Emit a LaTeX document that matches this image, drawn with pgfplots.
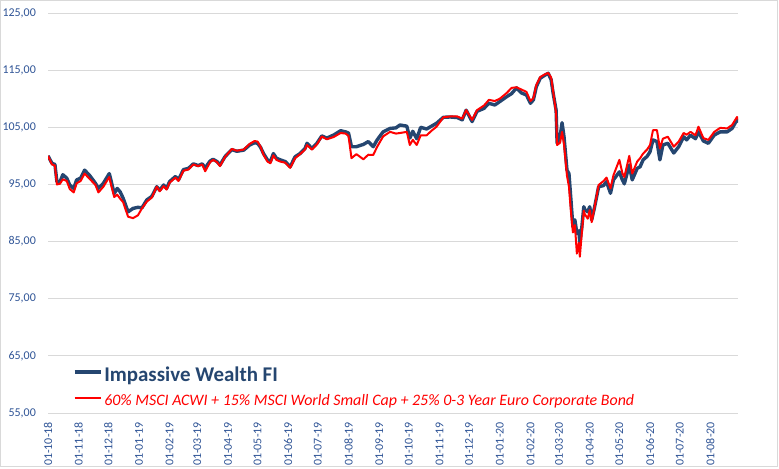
\documentclass[border=0pt]{standalone}
\usepackage{pgfplots}
\usepackage{pgfplotstable}
\pgfplotsset{compat=1.18}
\usepackage{fontspec}
\setmainfont{Carlito}
\definecolor{iwblue}{RGB}{37,70,112}
\definecolor{tickblue}{RGB}{47,84,150}
\definecolor{gridgray}{RGB}{217,217,217}
\definecolor{bordergray}{RGB}{217,217,217}

\pgfplotstableread{
day val
0 100.0
4 98.7
7 98.5
9 95.5
12 95.4
15 96.7
19 96.1
22 94.9
26 94.3
29 95.8
33 96.1
37 97.5
42 96.6
48 95.2
51 94.3
56 95.2
62 96.9
64 95.5
67 93.4
70 94.3
73 93.7
76 92.6
81 90.2
86 90.8
91 91.0
95 90.9
100 92.3
105 92.9
110 94.6
113 94.0
117 94.9
120 94.3
123 95.5
129 96.4
132 95.8
137 97.6
142 97.8
147 98.6
152 98.3
156 98.6
159 97.9
164 99.1
167 99.4
171 99.0
174 98.4
179 99.85
186 101.1
191 100.8
198 101.0
204 101.9
209 102.3
212 102.2
215 101.5
218 100.4
222 99.3
225 99.0
228 100.4
231 99.6
235 99.3
240 99.0
245 98.1
250 99.85
255 100.4
260 101.3
262 102.2
267 101.3
272 102.2
277 103.5
282 103.1
289 103.65
296 104.4
301 104.2
304 104.0
307 101.6
312 101.6
319 102.0
324 102.5
329 101.6
333 102.8
339 104.2
346 104.8
352 104.9
356 105.4
363 105.2
366 103.1
369 104.3
373 103.0
377 105.0
383 104.7
388 105.2
393 105.7
400 106.75
407 106.8
414 106.7
419 106.3
423 108.0
429 106.0
434 107.8
441 108.3
446 109.2
452 108.9
457 109.5
464 110.35
469 110.9
474 111.9
479 111.0
484 110.65
488 109.2
491 109.8
494 112.1
498 113.6
503 114.15
506 114.45
509 113.3
511 110.95
514 108.0
515 102.2
518 103.35
520 105.8
522 103.35
525 97.5
527 96.9
529 92.3
531 87.6
533 88.8
535 86.4
537 86.9
538 84.7
540 87.5
542 91.1
543 90.6
546 90.2
548 91.1
550 88.8
553 91.1
557 94.6
562 94.8
565 95.5
569 93.45
572 95.8
578 97.2
581 95.8
583 95.1
588 98.4
591 95.8
596 97.8
599 98.1
602 99.3
606 99.9
609 100.7
612 102.8
616 102.5
619 99.3
622 101.9
627 102.2
633 100.5
638 101.6
643 103.35
646 102.8
650 103.6
655 103.0
658 104.2
663 102.6
668 102.2
674 103.65
680 104.2
687 104.2
692 104.8
697 106.3
699 106.0
}\iwtable

\pgfplotstableread{
day val
0 100.0
4 98.5
7 98.3
9 95.0
12 95.1
15 95.9
19 95.6
22 94.2
26 93.6
29 95.2
33 95.6
37 96.9
42 96.0
48 94.9
51 93.6
56 94.6
62 96.3
64 94.8
67 92.8
70 93.2
73 92.5
76 91.9
81 89.35
86 89.1
91 89.6
95 90.8
100 92.0
105 92.7
110 94.6
113 93.8
117 94.7
120 94.1
123 95.3
129 96.2
132 95.6
137 97.4
142 97.6
147 98.5
152 98.2
156 98.5
159 97.3
164 98.9
167 99.3
171 98.9
174 98.2
179 99.8
186 101.2
191 100.9
198 101.1
204 102.1
209 102.6
212 102.5
215 101.6
218 100.2
222 99.0
225 98.7
228 100.1
231 99.3
235 99.0
240 98.8
245 97.9
250 99.6
255 100.3
260 101.1
262 101.9
267 101.1
272 102.0
277 103.4
282 102.9
289 103.3
296 104.0
301 103.9
304 103.5
307 99.6
312 100.3
319 99.4
324 100.2
329 100.15
333 101.6
339 103.4
346 104.2
352 103.9
356 104.0
363 104.2
366 101.9
369 102.8
373 101.9
377 103.6
383 103.6
388 104.4
393 105.1
400 106.75
407 106.9
414 106.9
419 106.5
423 108.0
429 106.3
434 108.0
441 108.8
446 109.8
452 109.6
457 110.0
464 111.0
469 111.9
474 112.0
479 111.6
484 111.2
488 109.6
491 110.1
494 112.4
498 113.8
503 114.3
506 114.5
509 113.7
511 111.3
514 107.4
515 101.9
518 102.3
520 104.2
522 102.0
525 96.5
527 94.6
529 90.2
531 86.6
533 87.9
535 82.9
537 84.8
538 82.35
540 86.5
542 90.4
543 89.8
546 89.0
548 90.5
550 88.4
553 91.1
557 94.9
562 95.6
565 96.2
569 94.3
572 96.6
578 99.3
581 97.0
583 96.3
588 100.0
591 96.9
596 99.0
599 99.6
602 100.4
606 101.1
609 101.9
612 104.5
616 104.5
619 101.3
622 103.0
627 103.35
633 101.6
638 102.5
643 104.0
646 103.7
650 104.2
655 103.6
658 105.1
663 103.1
668 102.8
674 104.2
680 104.9
687 104.8
692 105.4
697 106.8
699 106.3
}\bmtable

\begin{document}
\begin{tikzpicture}
\useasboundingbox (0,0) rectangle (779bp,469bp);
\draw[bordergray, line width=1bp] (0.5bp,2bp) rectangle (777bp,468.5bp);
\begin{axis}[
  at={(48bp,56bp)}, anchor=south west,
  scale only axis, width=690bp, height=400bp,
  xmin=0, xmax=698, ymin=55, ymax=125,
  axis line style={draw=none},
  major tick length=0pt,
  ymajorgrids, grid style={gridgray, line width=1bp},
  ytick={55,65,75,85,95,105,115,125},
  /pgf/number format/.cd, assume math mode=true, fixed, fixed zerofill, precision=2, use comma,
  /pgfplots/.cd,
  yticklabel style={font=\fontsize{12}{14}\selectfont, text=tickblue, inner sep=0pt, anchor=east, xshift=-12bp},
  xtick={0,31,61,92,123,151,182,212,243,273,304,335,365,396,426,457,488,517,548,578,609,639,670},
  xticklabels={01-10-18,01-11-18,01-12-18,01-01-19,01-02-19,01-03-19,01-04-19,01-05-19,01-06-19,01-07-19,01-08-19,01-09-19,01-10-19,01-11-19,01-12-19,01-01-20,01-02-20,01-03-20,01-04-20,01-05-20,01-06-20,01-07-20,01-08-20},
  xticklabel style={font=\fontsize{12}{14}\selectfont, text=tickblue, rotate=90, anchor=east, inner sep=0pt},
  xticklabel shift=9bp,
  legend style={at={(axis cs:22,63.85)}, anchor=north west, draw=none, fill=none, row sep=7.6bp, column sep=0bp},
  legend cell align=left,
  legend image code/.code={\draw[#1] (0bp,0.6ex) -- (26bp,0.6ex);},
]
\addplot[iwblue, line width=3.4bp, line join=round] table[x=day, y=val] {\iwtable};
\addlegendentry{\fontsize{21}{25}\selectfont\bfseries\textcolor{iwblue}{Impassive Wealth FI}}
\addplot[red, line width=2bp, line join=round] table[x=day, y=val] {\bmtable};
\addlegendentry{\fontsize{16}{19}\selectfont\itshape\textcolor{red}{60\% MSCI ACWI + 15\% MSCI World Small Cap + 25\% 0-3 Year Euro Corporate Bond}}
\end{axis}
\end{tikzpicture}
\end{document}
